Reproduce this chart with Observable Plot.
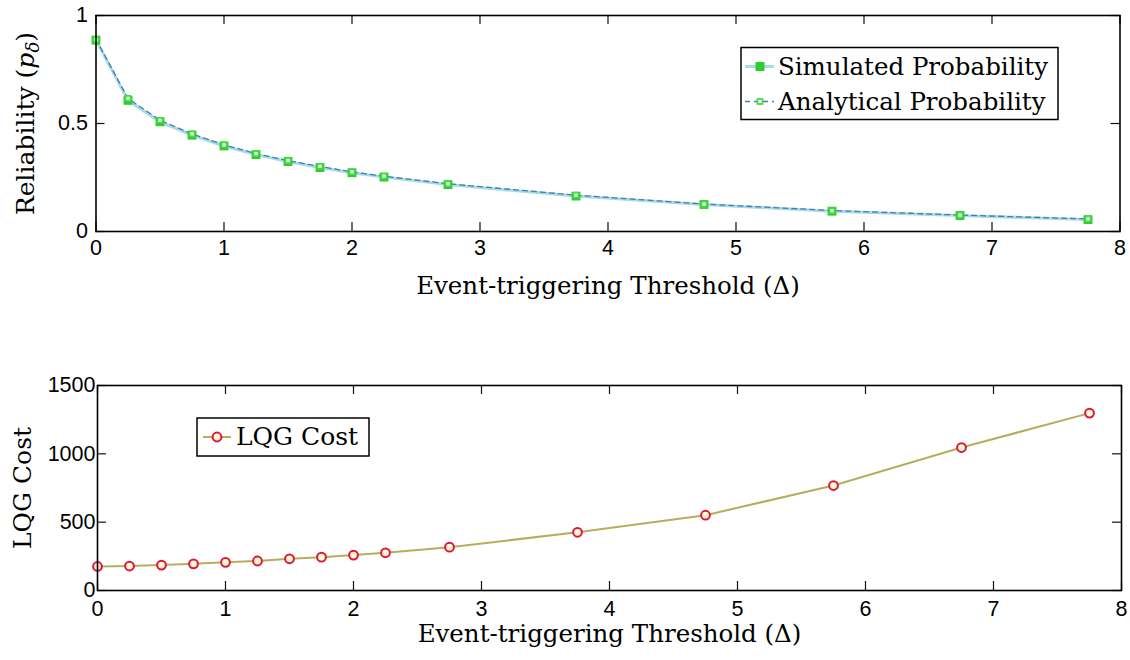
<!DOCTYPE html>
<html><head><meta charset="utf-8">
<script src="https://cdn.jsdelivr.net/npm/d3@7"></script>
<script src="https://cdn.jsdelivr.net/npm/@observablehq/plot@0.6"></script>
<style>
body{margin:0;background:#fff;}
#wrap{position:relative;width:1130px;height:660px;background:#fff;}
#wrap > svg{display:block;}
#legend{position:absolute;left:0;top:0;pointer-events:none;}
</style></head><body><div id="wrap"></div>
<script>
// ---- data ----
const thresholds     = [0, 0.25, 0.5, 0.75, 1, 1.25, 1.5, 1.75, 2, 2.25, 2.75, 3.75, 4.75, 5.75, 6.75, 7.75];
const simulatedProb  = [0.886, 0.607, 0.508, 0.446, 0.396, 0.356, 0.324, 0.296, 0.272, 0.252, 0.217, 0.164, 0.125, 0.094, 0.074, 0.055];
const analyticalProb = [0.890, 0.616, 0.515, 0.452, 0.401, 0.361, 0.328, 0.301, 0.276, 0.256, 0.221, 0.168, 0.127, 0.097, 0.076, 0.058];
const lqgCost        = [176, 179, 186, 195, 206, 216, 232, 244, 259, 276, 317, 426, 551, 768, 1046, 1298];
const xTicks       = [0, 1, 2, 3, 4, 5, 6, 7, 8];
const yTicksTop    = [0, 0.5, 1];
const yTicksBottom = [0, 500, 1000, 1500];
const xLabel       = "Event-triggering Threshold (Δ)";
const yLabelTop    = "Reliability (pδ)";
const yLabelBottom = "LQG Cost";
const seriesTop    = ["Simulated Probability", "Analytical Probability"];
const seriesBottom = ["LQG Cost"];

const simRows  = thresholds.map((x, i) => ({x, y: simulatedProb[i]}));
const anaRows  = thresholds.map((x, i) => ({x, y: analyticalProb[i]}));
const costRows = thresholds.map((x, i) => ({x, y: lqgCost[i]}));

const SERIF = "'DejaVu Serif', serif";
const SANS = "'Liberation Sans', Arial, Helvetica, sans-serif";
const C = {
  simLine: "#a9dbe5", anaLine: "#3f7cb8", green: "#2fcc2f", greenLight: "#3ede3e",
  olive: "#b6ae5c", red: "#e0153b", cream: "#fffbd2"
};
const TICK = 9;

function boxMarks(xt, yt, innerW, innerH, xPad, yPad) {
  return [
    Plot.ruleX(xt, {x: d => d, insetTop: innerH - TICK, stroke: "#111", strokeWidth: 1.2}),
    Plot.ruleX(xt, {x: d => d, insetBottom: innerH - TICK, stroke: "#111", strokeWidth: 1.2}),
    Plot.ruleY(yt, {y: d => d, insetRight: innerW - TICK, stroke: "#111", strokeWidth: 1.2}),
    Plot.ruleY(yt, {y: d => d, insetLeft: innerW - TICK, stroke: "#111", strokeWidth: 1.2}),
    Plot.frame({stroke: "#000", strokeWidth: 1.6}),
    Plot.axisX(xt, {anchor: "bottom", tickSize: 0, tickPadding: xPad, tickFormat: d => String(d), label: null, fontSize: 21.5, fontFamily: SANS, fill: "#000"}),
    Plot.axisY(yt, {anchor: "left", tickSize: 0, tickPadding: yPad, tickFormat: d => String(d), label: null, fontSize: 21.5, fontFamily: SANS, fill: "#000"})
  ];
}

// ---- top chart ----
const topW = 1130, topH = 320, topML = 95.5, topMR = 10.5, topMT = 15, topMB = 89;
const topPlot = Plot.plot({
  width: topW, height: topH,
  marginLeft: topML, marginRight: topMR, marginTop: topMT, marginBottom: topMB,
  style: {fontFamily: SANS, fontSize: "21px", background: "#fff", color: "#000", overflow: "visible"},
  x: {domain: [0, 8], axis: null},
  y: {domain: [0, 1], axis: null},
  marks: [
    Plot.line(simRows, {x: "x", y: "y", stroke: C.simLine, strokeWidth: 3}),
    Plot.line(anaRows, {x: "x", y: "y", stroke: C.anaLine, strokeWidth: 1.3, strokeDasharray: "5,4"}),
    Plot.dot(simRows, {x: "x", y: "y", symbol: "square", r: 5, fill: C.green, stroke: "none"}),
    Plot.dot(anaRows, {x: "x", y: "y", symbol: "square", r: 2.8, fill: "#fff", stroke: C.greenLight, strokeWidth: 1.7}),
    ...boxMarks(xTicks, yTicksTop, topW - topML - topMR, topH - topMT - topMB, 8, 8),
    Plot.text([xLabel], {text: d => d, frameAnchor: "bottom", dy: 62, lineAnchor: "bottom", fontFamily: SERIF, fontSize: 24.5, fill: "#000"}),
    Plot.text([yLabelTop], {text: d => d, frameAnchor: "left", dx: -62, rotate: -90, lineAnchor: "bottom", textAnchor: "middle", fontFamily: SERIF, fontSize: 25, fill: "#000"})
  ]
});

// ---- bottom chart ----
const botW = 1130, botH = 340, botML = 97, botMR = 9, botMT = 65, botMB = 70;
const botPlot = Plot.plot({
  width: botW, height: botH,
  marginLeft: botML, marginRight: botMR, marginTop: botMT, marginBottom: botMB,
  style: {fontFamily: SANS, fontSize: "21px", background: "#fff", color: "#000", overflow: "visible"},
  x: {domain: [0, 8], axis: null},
  y: {domain: [0, 1500], axis: null},
  marks: [
    Plot.line(costRows, {x: "x", y: "y", stroke: C.olive, strokeWidth: 2}),
    Plot.dot(costRows, {x: "x", y: "y", r: 4.4, fill: C.cream, stroke: C.red, strokeWidth: 2}),
    ...boxMarks(xTicks, yTicksBottom, botW - botML - botMR, botH - botMT - botMB, 10, 2),
    Plot.text([xLabel], {text: d => d, frameAnchor: "bottom", dy: 51, lineAnchor: "bottom", fontFamily: SERIF, fontSize: 24.5, fill: "#000"}),
    Plot.text([yLabelBottom], {text: d => d, frameAnchor: "left", dx: -67, rotate: -90, lineAnchor: "bottom", textAnchor: "middle", fontFamily: SERIF, fontSize: 25, fill: "#000"})
  ]
});

const wrap = document.getElementById("wrap");
wrap.appendChild(topPlot);
wrap.appendChild(botPlot);

// subscript delta in the reliability label
d3.select(topPlot).selectAll("text").each(function() {
  if (this.textContent === yLabelTop) {
    const t = d3.select(this);
    t.text(null);
    t.append("tspan").text("Reliability (");
    t.append("tspan").attr("font-style", "italic").text("p");
    t.append("tspan").attr("font-style", "italic").attr("font-size", 18).attr("dy", 5).text("δ");
    t.append("tspan").attr("dy", -5).text(")");
  }
});

// ---- legends ----
const leg = d3.select(wrap).append("svg").attr("id", "legend").attr("width", 1130).attr("height", 660);
const lt = leg.append("g");
lt.append("rect").attr("x", 741).attr("y", 47.5).attr("width", 317).attr("height", 72).attr("fill", "#fff").attr("stroke", "#000").attr("stroke-width", 1.5);
seriesTop.forEach((name, i) => {
  const y = 66.5 + i * 35;
  if (i === 0) {
    lt.append("line").attr("x1", 745).attr("x2", 774).attr("y1", y).attr("y2", y).attr("stroke", C.simLine).attr("stroke-width", 3);
    lt.append("rect").attr("x", 760 - 4.5).attr("y", y - 4.5).attr("width", 9).attr("height", 9).attr("fill", C.green);
  } else {
    lt.append("line").attr("x1", 745).attr("x2", 774).attr("y1", y).attr("y2", y).attr("stroke", C.anaLine).attr("stroke-width", 1.3).attr("stroke-dasharray", "5,4");
    lt.append("rect").attr("x", 760 - 2.5).attr("y", y - 2.5).attr("width", 5).attr("height", 5).attr("fill", "#fff").attr("stroke", C.greenLight).attr("stroke-width", 1.7);
  }
  lt.append("text").attr("x", 778).attr("y", y + 8.5).attr("font-family", SERIF).attr("font-size", 24.5).text(name);
});
const lb = leg.append("g");
lb.append("rect").attr("x", 197).attr("y", 418).attr("width", 172).attr("height", 38).attr("fill", "#fff").attr("stroke", "#000").attr("stroke-width", 1.5);
seriesBottom.forEach((name, i) => {
  const y = 437;
  lb.append("line").attr("x1", 203).attr("x2", 231).attr("y1", y).attr("y2", y).attr("stroke", C.olive).attr("stroke-width", 2);
  lb.append("circle").attr("cx", 217).attr("cy", y).attr("r", 4.4).attr("fill", C.cream).attr("stroke", C.red).attr("stroke-width", 2);
  lb.append("text").attr("x", 236).attr("y", y + 7.5).attr("font-family", SERIF).attr("font-size", 25).text(name);
});
</script></body></html>
